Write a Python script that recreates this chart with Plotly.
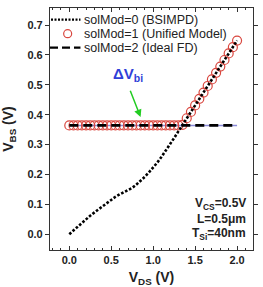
import plotly.graph_objects as go

vds = [round(0.05 * i, 2) for i in range(41)]
vbs_bsimpd = [0.000, 0.013, 0.026, 0.038, 0.050, 0.062, 0.073, 0.084, 0.095, 0.106,
              0.116, 0.125, 0.133, 0.140, 0.147, 0.155, 0.166, 0.178, 0.192, 0.207,
              0.223, 0.240, 0.259, 0.279, 0.300, 0.322, 0.344, 0.366, 0.388, 0.409,
              0.431, 0.453, 0.474, 0.496, 0.518, 0.540, 0.561, 0.583, 0.605, 0.626, 0.648]
vbi = 0.364
vbs_unified = [max(vbi, v) for v in vbs_bsimpd]
vbs_ideal = [vbi] * len(vds)
legend_labels = ["solMod=0 (BSIMPD)", "solMod=1 (Unified Model)", "solMod=2 (Ideal FD)"]

F = "Liberation Sans, Arial, sans-serif"
RED = "#d9473f"
fig = go.Figure()
fig.add_trace(go.Scatter(x=vds, y=vbs_ideal, mode="lines", showlegend=False,
                         line=dict(color="#8a8ad8", width=1.5), hoverinfo="skip"))
fig.add_trace(go.Scatter(x=vds, y=vbs_unified, mode="markers", name=legend_labels[1], showlegend=False,
                         marker=dict(symbol="circle-open", size=9, color=RED, line=dict(width=1.2))))
fig.add_trace(go.Scatter(x=vds, y=vbs_bsimpd, mode="lines", name=legend_labels[0], showlegend=False,
                         line=dict(color="black", width=2.6, dash="2.6px,1.8px")))
fig.add_trace(go.Scatter(x=vds, y=vbs_ideal, mode="lines", name=legend_labels[2], showlegend=False,
                         line=dict(color="black", width=2.6, dash="9px,5px")))

axis_common = dict(showline=True, linecolor="#333", linewidth=1.2, mirror="allticks",
                   showgrid=False, zeroline=False, ticklen=4, tickwidth=1, tickcolor="#333",
                   tickfont=dict(family=F, size=11, color="#222"))
fig.update_xaxes(range=[-0.23, 2.19], tickvals=[0, 0.5, 1.0, 1.5, 2.0],
                 ticktext=["<b>0.0</b>", "<b>0.5</b>", "<b>1.0</b>", "<b>1.5</b>", "<b>2.0</b>"],
                 ticks="inside", minor=dict(ticks="inside", ticklen=2, dtick=0.1, tickcolor="#333"),
                 title=dict(text="<b>V<sub>DS</sub> (V)</b>", font=dict(family=F, size=14, color="#222"), standoff=6),
                 **axis_common)
fig.update_yaxes(range=[-0.053, 0.757], tickvals=[0, 0.1, 0.2, 0.3, 0.4, 0.5, 0.6, 0.7],
                 ticktext=["<b>%.1f</b>" % v for v in [0, 0.1, 0.2, 0.3, 0.4, 0.5, 0.6, 0.7]],
                 ticks="outside",
                 title=dict(text="<b>V<sub>BS</sub> (V)</b>", font=dict(family=F, size=14, color="#222"), standoff=12),
                 **axis_common)

fig.add_annotation(x=0.70, y=0.535, text="<b>ΔV<sub>bi</sub></b>", showarrow=False,
                   font=dict(family=F, size=15, color="#2f3fd8"))
fig.add_annotation(x=0.85, y=0.392, ax=0.72, ay=0.485, xref="x", yref="y", axref="x", ayref="y",
                   text="", showarrow=True, arrowhead=2, arrowsize=1, arrowwidth=1.5, arrowcolor="#22cc22")
fig.add_annotation(x=2.13, y=0.10, text="<b>V<sub>CS</sub>=0.5V</b>", showarrow=False, xanchor="right",
                   font=dict(family=F, size=12, color="#222"))
fig.add_annotation(x=2.13, y=0.05, text="<b>L=0.5μm</b>", showarrow=False, xanchor="right",
                   font=dict(family=F, size=12, color="#222"))
fig.add_annotation(x=2.13, y=0.0, text="<b>T<sub>Si</sub>=40nm</b>", showarrow=False, xanchor="right",
                   font=dict(family=F, size=12, color="#222"))

# manual compact legend (paper coords; plot area 208 x 243 px)
rows_y = [0.952, 0.894, 0.836]
for lab, yy in zip(legend_labels, rows_y):
    fig.add_annotation(xref="paper", yref="paper", x=0.158, y=yy, text=lab, showarrow=False,
                       xanchor="left", yanchor="middle", font=dict(family=F, size=12.5, color="#222"))
fig.add_shape(type="line", xref="paper", yref="paper", x0=0.005, x1=0.15, y0=rows_y[0], y1=rows_y[0],
              line=dict(color="black", width=2.2, dash="2px,1.5px"))
fig.add_shape(type="circle", xref="paper", yref="paper", xsizemode="pixel", ysizemode="pixel",
              xanchor=0.087, yanchor=rows_y[1], x0=-4, x1=4, y0=-4, y1=4,
              line=dict(color=RED, width=1.2))
fig.add_shape(type="line", xref="paper", yref="paper", x0=0.0, x1=0.15, y0=rows_y[2], y1=rows_y[2],
              line=dict(color="black", width=2.2, dash="8px,4px"))

fig.update_layout(width=263, height=287, margin=dict(l=50, r=5, t=8, b=36),
                  paper_bgcolor="white", plot_bgcolor="white", showlegend=False)
fig.write_html("out.html")
